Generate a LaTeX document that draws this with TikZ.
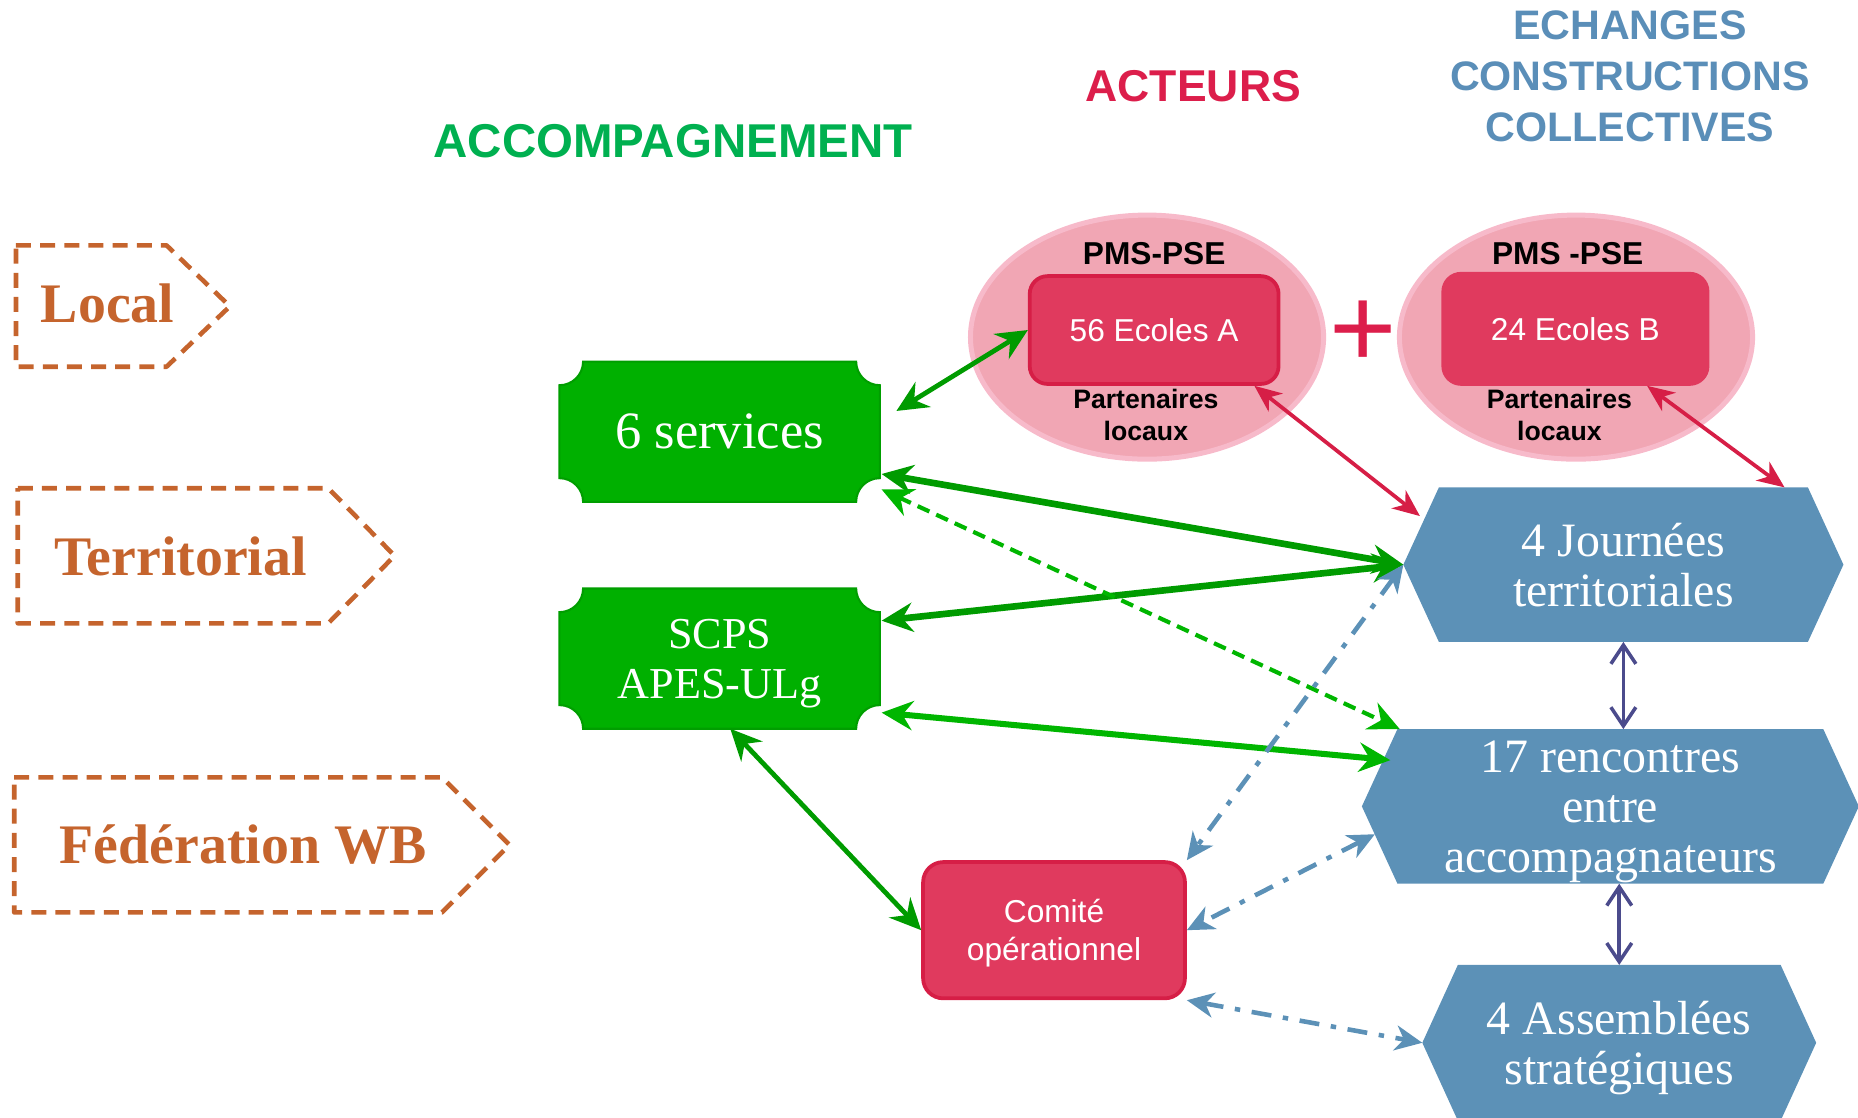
\documentclass[tikz,border=0pt]{standalone}
\usepackage{fontspec}
\setmainfont{Liberation Serif}
\setsansfont{Liberation Sans}
\usetikzlibrary{arrows.meta,shapes.geometric,backgrounds}

\definecolor{titlegreen}{RGB}{0,176,80}
\definecolor{titlered}{RGB}{220,30,75}
\definecolor{titleblue}{RGB}{90,142,184}
\definecolor{hexblue}{RGB}{92,145,183}
\definecolor{tierbrown}{RGB}{197,100,45}
\definecolor{boxgreen}{RGB}{0,176,0}
\definecolor{boxgreenline}{RGB}{0,158,0}
\definecolor{arrowgreen}{RGB}{0,155,0}
\definecolor{lightgreen}{RGB}{0,182,0}
\definecolor{cloudpink}{RGB}{241,166,180}
\definecolor{cloudline}{RGB}{247,186,202}
\definecolor{schoolred}{RGB}{224,58,94}
\definecolor{schoolline}{RGB}{214,30,70}
\definecolor{linkpurple}{RGB}{75,75,140}

% green box with notched corners, drawn behind node #1
\newcommand\notchbox[1]{%
  \filldraw[fill=boxgreen, draw=boxgreenline, line width=0.5pt]
    ([xshift=0.2cm]#1.north west) -- ([xshift=-0.2cm]#1.north east)
    arc[start angle=180, end angle=270, radius=0.2cm]
    -- ([yshift=0.2cm]#1.south east)
    arc[start angle=90, end angle=180, radius=0.2cm]
    -- ([xshift=0.2cm]#1.south west)
    arc[start angle=0, end angle=90, radius=0.2cm]
    -- ([yshift=-0.2cm]#1.north west)
    arc[start angle=270, end angle=360, radius=0.2cm]
    -- cycle;}
% blue hexagon behind node #1
\newcommand\hexbox[1]{%
  \fill[hexblue] (#1.west) -- ([xshift=0.3cm]#1.north west)
    -- ([xshift=-0.3cm]#1.north east) -- (#1.east)
    -- ([xshift=-0.3cm]#1.south east) -- ([xshift=0.3cm]#1.south west) -- cycle;}

\tikzset{
  heading/.style={font=\sffamily\bfseries\fontsize{#1}{12.2}\selectfont, inner sep=0pt, align=center},
  tier/.style={draw=tierbrown, line width=1.1pt, dash pattern=on 3.6pt off 2.2pt, line join=round},
  tiertext/.style={text=tierbrown, font=\bfseries\fontsize{13.4}{15}\selectfont, anchor=base, inner sep=0pt},
  svcbox/.style={minimum width=2.69cm, minimum height=1.17cm, inner sep=0pt, text=white, align=center},
  pmscloud/.style={ellipse, fill=cloudpink, draw=cloudline, line width=1.2pt,
    minimum width=2.98cm, minimum height=2.06cm, inner sep=0pt},
  school/.style={rectangle, rounded corners=0.15cm, fill=schoolred, draw=schoolline, line width=0.9pt,
    text=white, font=\sffamily\fontsize{7.6}{9.1}\selectfont, inner sep=0pt, align=center},
  hexa/.style={minimum height=1.29cm, inner sep=0pt, text=white,
    font=\fontsize{11.5}{12}\selectfont, align=center},
  glink/.style={line width=#1, {Stealth[length=7.5pt,width=7pt,inset=2.5pt]}-{Stealth[length=7.5pt,width=7pt,inset=2.5pt]}},
  rlink/.style={line width=0.9pt, draw=schoolline, {Stealth[length=6.5pt,width=5.5pt,inset=2pt]}-{Stealth[length=6.5pt,width=5.5pt,inset=2pt]}},
  blink/.style={line width=1.1pt, draw=hexblue, dash pattern=on 4.8pt off 2.8pt on 1.3pt off 2.8pt,
    {Stealth[length=6.5pt,width=6pt,inset=2pt]}-{Stealth[length=6.5pt,width=6pt,inset=2pt]}},
  plink/.style={line width=0.85pt, draw=linkpurple, {Straight Barb[length=4.5pt,width=6pt]}-{Straight Barb[length=4.5pt,width=6pt]}}
}

\begin{document}
\begin{tikzpicture}
  \useasboundingbox (0,0) rectangle (15.68,-9.43);

  % column titles
  \node[heading=11.4, text=titlegreen, anchor=base] (acc) at (5.68,-1.325) {ACCOMPAGNEMENT};
  \node[heading=10.7, text=titlered, anchor=base] (act) at (10.07,-0.86) {ACTEURS};
  \node[heading=9.9, text=titleblue] (ech) at (13.755,-0.644) {ECHANGES\\CONSTRUCTIONS\\COLLECTIVES};

  % levels
  \draw[tier] (0.135,-2.07) -- (1.405,-2.07) -- (1.94,-2.585) -- (1.405,-3.095) -- (0.135,-3.095) -- cycle;
  \draw[tier] (0.15,-4.12) -- (2.77,-4.12) -- (3.33,-4.69) -- (2.77,-5.26) -- (0.15,-5.26) -- cycle;
  \draw[tier] (0.12,-6.56) -- (3.73,-6.56) -- (4.30,-7.13) -- (3.73,-7.70) -- (0.12,-7.70) -- cycle;
  \node[tiertext] (local) at (0.908,-2.723) {Local};
  \node[tiertext] (territ) at (1.525,-4.86) {Territorial};
  \node[tiertext] (fwb) at (2.055,-7.29) {Fédération WB};

  % accompagnement
  \node[svcbox, font=\fontsize{12.6}{14}\selectfont] (serv) at (6.073,-3.643) {6 services};
  \node[svcbox, font=\fontsize{10.6}{12}\selectfont] (scps) at (6.073,-5.558) {SCPS\\\smash{APES-ULg}};

  % acteurs
  \node[pmscloud] (ellA) at (9.68,-2.845) {};
  \node[pmscloud] (ellB) at (13.30,-2.845) {};
  \node[school, minimum width=2.10cm, minimum height=0.91cm] (ecA) at (9.74,-2.785) {56 Ecoles A};
  \node[school, draw=schoolred, minimum width=2.23cm, minimum height=0.93cm] (ecB) at (13.295,-2.775) {24 Ecoles B};
  \node[anchor=base, inner sep=0pt, font=\sffamily\bfseries\fontsize{7.6}{9}\selectfont] (pmsA) at (9.74,-2.23) {PMS-PSE};
  \node[anchor=base, inner sep=0pt, font=\sffamily\bfseries\fontsize{7.6}{9}\selectfont] (pmsB) at (13.23,-2.23) {PMS -PSE};
  \node[inner sep=0pt, align=center, font=\sffamily\bfseries\fontsize{6.4}{7.7}\selectfont] (partA) at (9.67,-3.505) {Partenaires\\locaux};
  \node[inner sep=0pt, align=center, font=\sffamily\bfseries\fontsize{6.4}{7.7}\selectfont] (partB) at (13.16,-3.505) {Partenaires\\locaux};
  \node[inner sep=0pt, text=titlered, font=\sffamily\fontsize{27.7}{28}\selectfont] (plus) at (11.50,-2.817) {+};
  \node[school, rounded corners=0.17cm, minimum width=2.21cm, minimum height=1.15cm] (comite) at (8.895,-7.85) {Comité\\\smash{opérationnel}};

  % echanges
  \node[hexa, minimum width=3.70cm] (jour) at (13.70,-4.765) {4 Journées\\territoriales};
  \node[hexa, minimum width=4.18cm] (renc) at (13.59,-6.805) {17 rencontres\\entre\\\smash{accompagnateurs}};
  \node[hexa, minimum width=3.31cm, minimum height=1.30cm] (assem) at (13.665,-8.80) {4 Assemblées\\\smash{stratégiques}};

  \begin{scope}[on background layer]
    \notchbox{serv}
    \notchbox{scps}
    \hexbox{jour}
    \hexbox{renc}
    \hexbox{assem}
  \end{scope}

  % links
  \draw[glink=1.15pt, arrowgreen] ([xshift=0.14cm,yshift=0.175cm]serv.east) to (ecA.west);
  \draw[glink=1.6pt, arrowgreen] ([xshift=0.015cm,yshift=-0.357cm]serv.east) to (jour.west);
  \draw[glink=1.6pt, arrowgreen] ([xshift=0.015cm,yshift=0.32cm]scps.east) to (jour.west);
  \draw[glink=1pt, lightgreen, dash pattern=on 3.1pt off 1.8pt] ([xshift=0.015cm,yshift=-0.487cm]serv.east) to ([xshift=0.32cm]renc.north west);
  \draw[glink=1.45pt, lightgreen] ([xshift=0.015cm,yshift=-0.456cm]scps.east) to ([xshift=0.24cm,yshift=0.39cm]renc.west);
  \draw[glink=1.15pt, arrowgreen] ([xshift=0.09cm]scps.south) to (comite.west);
  \draw[rlink] ([xshift=-0.22cm]ecA.south east) to ([xshift=0.14cm,yshift=0.41cm]jour.west);
  \draw[rlink] ([xshift=0.605cm]ecB.south) to ([xshift=1.36cm]jour.north);
  \draw[plink] (jour.south) to (jour.south |- renc.north);
  \draw[plink] (assem.north |- renc.south) to (assem.north);
  \draw[blink] (jour.west) to (comite.north east);
  \draw[blink] ([xshift=0.11cm,yshift=-0.235cm]renc.west) to (comite.east);
  \draw[blink] (comite.south east) to (assem.west);
\end{tikzpicture}
\end{document}
